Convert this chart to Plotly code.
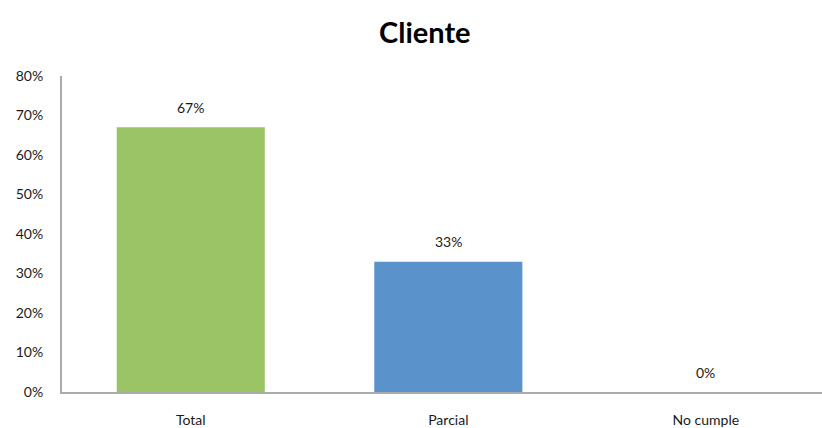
import plotly.graph_objects as go

# Survey results for "Cliente"
categories = ["Total", "Parcial", "No cumple"]
values = [0.67, 0.33, 0.0]
bar_colors = ["#9BC565", "#5A93CB", "#5A93CB"]
y_ticks = [0, 0.1, 0.2, 0.3, 0.4, 0.5, 0.6, 0.7, 0.8]
y_tick_labels = ["0%", "10%", "20%", "30%", "40%", "50%", "60%", "70%", "80%"]

FONT = "Lato, Carlito, Calibri, sans-serif"
x_pos = list(range(len(categories)))

fig = go.Figure(
    go.Bar(
        x=x_pos,
        y=values,
        width=0.575,
        marker=dict(color=bar_colors, line=dict(width=0)),
        hoverinfo="skip",
    )
)

# value labels above each bar
for xi, v in zip(x_pos, values):
    fig.add_annotation(
        x=xi, y=v, text=f"{round(v * 100)}%", showarrow=False,
        yshift=20, font=dict(family=FONT, size=14, color="#1a1a1a"),
    )

fig.update_layout(
    width=822,
    height=428,
    margin=dict(l=62, r=0, t=76, b=33),
    paper_bgcolor="white",
    plot_bgcolor="white",
    showlegend=False,
    annotations=list(fig.layout.annotations) + [
        dict(
            text="<b>Cliente</b>", xref="paper", yref="paper",
            x=0.4776, y=1, yshift=45, xanchor="center", yanchor="middle",
            showarrow=False, font=dict(family=FONT, size=29, color="#000"),
        )
    ],
)

fig.update_xaxes(
    range=[-0.5, 2.451],
    tickvals=x_pos,
    ticktext=categories,
    showgrid=False,
    zeroline=False,
    showline=True,
    linecolor="#ABABAB",
    linewidth=2,
    ticks="",
    ticklabelstandoff=14,
    tickfont=dict(family=FONT, size=14, color="#1a1a1a"),
)

fig.update_yaxes(
    range=[0, 0.8],
    tickvals=y_ticks,
    ticktext=y_tick_labels,
    showgrid=False,
    zeroline=False,
    showline=True,
    linecolor="#ABABAB",
    linewidth=2,
    ticks="",
    ticklabelstandoff=14,
    tickfont=dict(family=FONT, size=14, color="#1a1a1a"),
)

fig.write_html("out.html")
